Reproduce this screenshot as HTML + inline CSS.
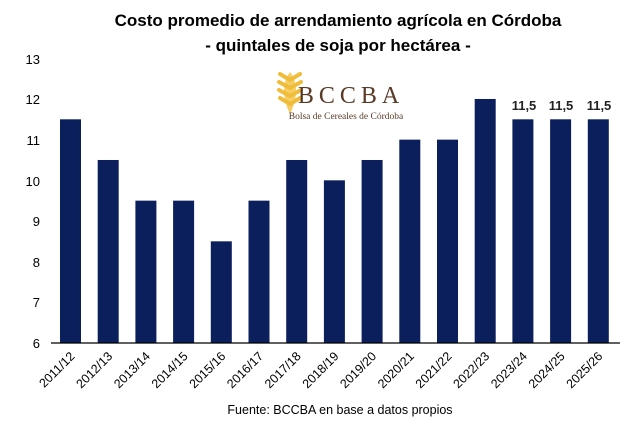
<!DOCTYPE html>
<html><head><meta charset="utf-8"><style>
body{margin:0;background:#fff;width:643px;height:420px;overflow:hidden;font-family:"Liberation Sans",sans-serif}
</style></head><body>
<svg width="643" height="420" viewBox="0 0 643 420" xmlns="http://www.w3.org/2000/svg" font-family="Liberation Sans, sans-serif">
<text x="338" y="26" text-anchor="middle" font-size="17" font-weight="bold" fill="#000">Costo promedio de arrendamiento agrícola en Córdoba</text>
<text x="338" y="51" text-anchor="middle" font-size="17" font-weight="bold" fill="#000">- quintales de soja por hectárea -</text>
<g font-size="13" fill="#000" text-anchor="end">
<text x="40" y="64">13</text><text x="40" y="104">12</text><text x="40" y="145">11</text><text x="40" y="186">10</text>
<text x="40" y="226">9</text><text x="40" y="267">8</text><text x="40" y="307">7</text><text x="40" y="348">6</text>
</g>
<g fill="#0b1f5c" id="bars"></g>
<line x1="51" y1="343" x2="620" y2="343" stroke="#000" stroke-width="1.2"/>
<g font-size="13" font-weight="bold" fill="#222" text-anchor="middle">
<text x="524" y="110">11,5</text><text x="561" y="110">11,5</text><text x="599" y="110">11,5</text>
</g>
<g id="labels" font-size="12.5" fill="#000"></g>
<text x="340" y="414" text-anchor="middle" font-size="12.5" fill="#000">Fuente: BCCBA en base a datos propios</text>
<g transform="translate(278,70)">
<path d="M12 2 C20 12 20 28 12 44 C4 28 4 12 12 2Z" fill="#f3c64a" opacity="0.85"/>
<path d="M12 10 L2 4 M12 18 L1 12 M12 26 L1 20 M12 34 L2 28 M12 10 L22 4 M12 18 L23 12 M12 26 L23 20 M12 34 L22 28" stroke="#f0bd3a" stroke-width="4" stroke-linecap="round"/>
</g>
<text x="351" y="103" text-anchor="middle" font-family="Liberation Serif, serif" font-size="24" fill="#5a3a26" letter-spacing="5">BCCBA</text>
<text x="346" y="119" text-anchor="middle" font-family="Liberation Serif, serif" font-size="9.5" fill="#5a3a26">Bolsa de Cereales de Córdoba</text>
</svg>
<script>
var v=[11.5,10.5,9.5,9.5,8.5,9.5,10.5,10,10.5,11,11,12,11.5,11.5,11.5];
var l=["2011/12","2012/13","2013/14","2014/15","2015/16","2016/17","2017/18","2018/19","2019/20","2020/21","2021/22","2022/23","2023/24","2024/25","2025/26"];
var ns="http://www.w3.org/2000/svg",b=document.getElementById("bars"),L=document.getElementById("labels");
v.forEach(function(d,i){var cx=70.5+i*37.7,y=343-(d-6)*40.67;
var r=document.createElementNS(ns,"rect");r.setAttribute("x",cx-10.5);r.setAttribute("y",y);r.setAttribute("width",21);r.setAttribute("height",343-y);b.appendChild(r);
var t=document.createElementNS(ns,"text");t.setAttribute("text-anchor","end");t.setAttribute("transform","translate("+(cx+5)+",357) rotate(-45)");t.textContent=l[i];L.appendChild(t);});
</script>
</body></html>
